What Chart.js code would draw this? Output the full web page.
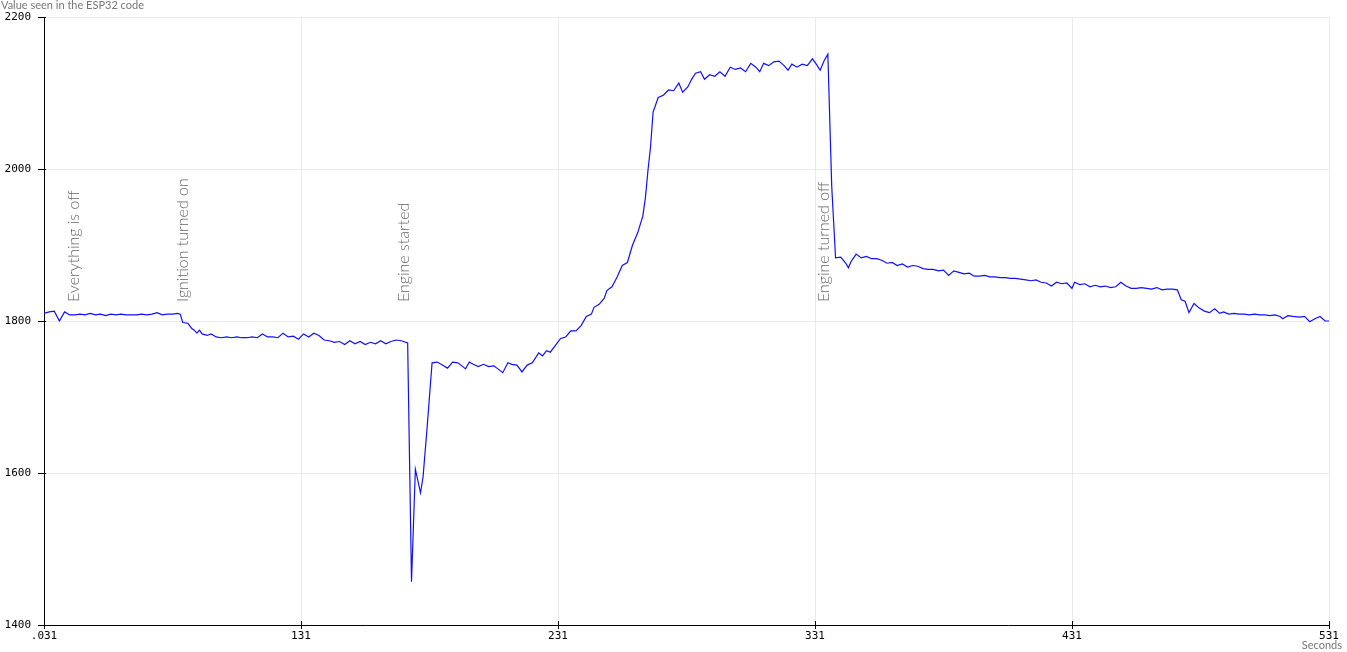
<!DOCTYPE html>
<html>
<head>
<meta charset="utf-8">
<title>ESP32 reading</title>
<script src="https://cdn.jsdelivr.net/npm/chart.js@4.4.1/dist/chart.umd.min.js"></script>
<style>
  html, body { margin: 0; padding: 0; background: #fff; }
  #plot { display: block; }
</style>
</head>
<body>
<canvas id="plot" width="1347" height="652"></canvas>
<script>
// time of each sample (s)
let seconds = [
  31, 33, 35, 37, 39, 41, 43, 45, 47, 49,
  51, 53, 55, 57, 59, 61, 63, 65, 67, 69,
  71, 73, 75, 77, 79, 81, 83, 84, 85, 87,
  88.5, 89.5, 90.5, 91.5, 92.5, 94.5, 96, 98, 100, 102,
  104, 106, 108, 110, 112, 114, 116, 118, 120, 122,
  124, 126, 128, 130, 132, 134, 136, 138, 140, 142,
  144, 146, 148, 150, 152, 154, 156, 158, 160, 162,
  164, 166, 168, 170, 172.5, 174, 175.5, 177.5, 178.5, 180,
  182, 184, 186, 188, 190, 192, 194, 195, 196.5, 198,
  200, 202, 204, 206, 208, 209.5, 211.5, 213, 215, 217,
  219, 221, 223.5, 225, 226.5, 228, 230, 232, 234, 236,
  238, 240, 242, 244, 245, 247, 249, 250, 252, 254,
  256, 258, 260, 262, 264, 265, 266, 267, 268, 270,
  272, 274, 276, 278, 279.5, 281.5, 283, 284.5, 286.5, 288,
  290, 292, 294, 296, 298, 300, 302, 304, 306, 308,
  309.5, 311, 313, 315, 317, 319, 320.5, 322, 324, 326,
  328, 330, 331.5, 333, 334.5, 336, 337.5, 339, 341, 343,
  344, 345, 347, 349, 351, 353, 355, 357, 359, 361,
  363, 365, 367, 369, 371, 373, 375, 377, 379, 381,
  383, 385, 387, 389, 391, 393, 395, 397, 399, 401,
  403, 405, 407, 409, 411, 413, 415, 417, 419, 421,
  423, 425, 427, 429, 431, 432, 434, 436, 438, 440,
  442, 444, 446, 448, 450, 452, 454, 456, 458, 460,
  462, 464, 466, 468, 470, 472, 473.5, 475, 476.5, 478.5,
  480.5, 482.5, 484.5, 486.5, 488.5, 490, 492, 494, 496, 498,
  500, 502, 504, 506, 508, 510, 512, 513, 515, 517,
  519.5, 521.5, 523.5, 525.5, 527.5, 529.5, 531
];

// value seen in the ESP32 code
let readings = [
  1810, 1812, 1813, 1800, 1812, 1808, 1808, 1809, 1808, 1810,
  1808, 1809, 1807, 1809, 1808, 1809, 1808, 1808, 1808, 1809,
  1808, 1809, 1811, 1808, 1809, 1809, 1810, 1809, 1798, 1797,
  1790, 1788, 1784, 1788, 1783, 1781, 1783, 1779, 1778, 1779,
  1778, 1779, 1778, 1778, 1779, 1778, 1783, 1779, 1779, 1778,
  1784, 1779, 1780, 1776, 1783, 1779, 1784, 1781, 1775, 1774,
  1772, 1773, 1769, 1774, 1770, 1773, 1769, 1772, 1770, 1774,
  1770, 1773, 1775, 1774, 1771, 1457, 1605, 1574, 1595, 1657,
  1745, 1746, 1742, 1738, 1746, 1745, 1740, 1737, 1746, 1743,
  1740, 1743, 1740, 1741, 1736, 1732, 1745, 1743, 1742, 1733,
  1742, 1745, 1758, 1754, 1761, 1759, 1768, 1777, 1779, 1787,
  1787, 1794, 1806, 1809, 1818, 1822, 1830, 1840, 1845, 1858,
  1873, 1877, 1900, 1916, 1938, 1962, 1998, 2029, 2075, 2094,
  2097, 2104, 2103, 2113, 2101, 2108, 2118, 2126, 2128, 2118,
  2124, 2122, 2128, 2122, 2134, 2131, 2133, 2128, 2139, 2134,
  2128, 2139, 2136, 2141, 2142, 2136, 2130, 2138, 2134, 2138,
  2136, 2145, 2138, 2130, 2142, 2151, 1978, 1883, 1884, 1876,
  1870, 1878, 1888, 1883, 1885, 1882, 1882, 1880, 1876, 1877,
  1873, 1875, 1871, 1873, 1872, 1869, 1868, 1868, 1866, 1867,
  1860, 1866, 1864, 1862, 1863, 1859, 1859, 1860, 1858, 1858,
  1857, 1857, 1856, 1856, 1855, 1854, 1853, 1854, 1851, 1850,
  1846, 1851, 1849, 1850, 1843, 1851, 1848, 1849, 1845, 1847,
  1845, 1846, 1844, 1845, 1851, 1846, 1843, 1843, 1844, 1843,
  1842, 1844, 1841, 1842, 1842, 1841, 1828, 1826, 1811, 1823,
  1817, 1813, 1811, 1816, 1810, 1812, 1809, 1810, 1809, 1809,
  1808, 1809, 1808, 1808, 1807, 1808, 1806, 1803, 1807, 1806,
  1805, 1806, 1799, 1803, 1806, 1800, 1800
];

let xTicks = [31, 131, 231, 331, 431, 531];
let xTickLabels = ['.031', '131', '231', '331', '431', '531'];
let yTicks = [1400, 1600, 1800, 2000, 2200];

let eventNames = ['Everything is off', 'Ignition turned on', 'Engine started', 'Engine turned off'];
let eventSeconds = [42.7, 85.1, 171.1, 334.5];

const tickFont = { family: '"DejaVu Sans Mono", monospace', size: 11 };
const labelFont = '300 16px Lato, "Open Sans", sans-serif';

// vertical event notes, axis captions and the short inner tick marks
const notes = {
  id: 'notes',
  afterDatasetsDraw(chart) {
    const ctx = chart.ctx, xs = chart.scales.x, ys = chart.scales.y;
    const area = chart.chartArea;
    ctx.save();
    ctx.strokeStyle = '#000';
    ctx.lineWidth = 1;
    ctx.beginPath();
    yTicks.forEach(v => {
      let y = Math.round(ys.getPixelForValue(v)) + 0.5;
      ctx.moveTo(area.left, y); ctx.lineTo(area.left + 2, y);
    });
    xTicks.forEach(v => {
      let x = Math.round(xs.getPixelForValue(v)) + 0.5;
      ctx.moveTo(x, area.bottom); ctx.lineTo(x, area.bottom - 4);
    });
    ctx.stroke();

    ctx.fillStyle = '#666';
    ctx.font = labelFont;
    ctx.textAlign = 'left';
    ctx.textBaseline = 'middle';
    eventNames.forEach((t, i) => {
      ctx.save();
      ctx.translate(xs.getPixelForValue(eventSeconds[i]), ys.getPixelForValue(1825));
      ctx.rotate(-Math.PI / 2);
      ctx.fillText(t, 0, 0);
      ctx.restore();
    });

    ctx.font = '11px Lato, "Open Sans", sans-serif';
    ctx.fillStyle = '#777';
    ctx.textBaseline = 'top';
    ctx.fillText('Value seen in the ESP32 code', 1, 0);
    ctx.textAlign = 'right';
    ctx.textBaseline = 'middle';
    ctx.fillText('Seconds', 1342, 645);
    ctx.restore();
  }
};

new Chart(document.getElementById('plot'), {
  type: 'line',
  data: {
    datasets: [{
      data: seconds.map((s, i) => ({ x: s, y: readings[i] })),
      borderColor: '#1010ff',
      borderWidth: 1.2,
      pointRadius: 0,
      tension: 0,
      fill: false
    }]
  },
  options: {
    responsive: false,
    animation: false,
    events: [],
    layout: { padding: { top: 17, right: 18, left: 0, bottom: 0 } },
    plugins: { legend: { display: false }, tooltip: { enabled: false } },
    scales: {
      x: {
        type: 'linear',
        min: 31,
        max: 531,
        afterBuildTicks: s => { s.ticks = xTicks.map(v => ({ value: v })); },
        afterFit: s => { s.height = 27; },
        grid: { color: '#ebebeb', tickColor: '#000', tickLength: 4 },
        border: { color: '#000', width: 1 },
        ticks: {
          color: '#000',
          font: tickFont,
          padding: 1,
          maxRotation: 0,
          autoSkip: false,
          callback: (v, i) => xTickLabels[i]
        }
      },
      y: {
        min: 1400,
        max: 2200,
        afterBuildTicks: s => { s.ticks = yTicks.map(v => ({ value: v })); },
        afterFit: s => { s.width = 44; },
        grid: { color: '#ebebeb', tickColor: '#000', tickLength: 6 },
        border: { color: '#000', width: 1 },
        ticks: { color: '#000', font: tickFont, padding: 7, callback: v => String(v) }
      }
    }
  },
  plugins: [notes]
});
</script>
</body>
</html>
